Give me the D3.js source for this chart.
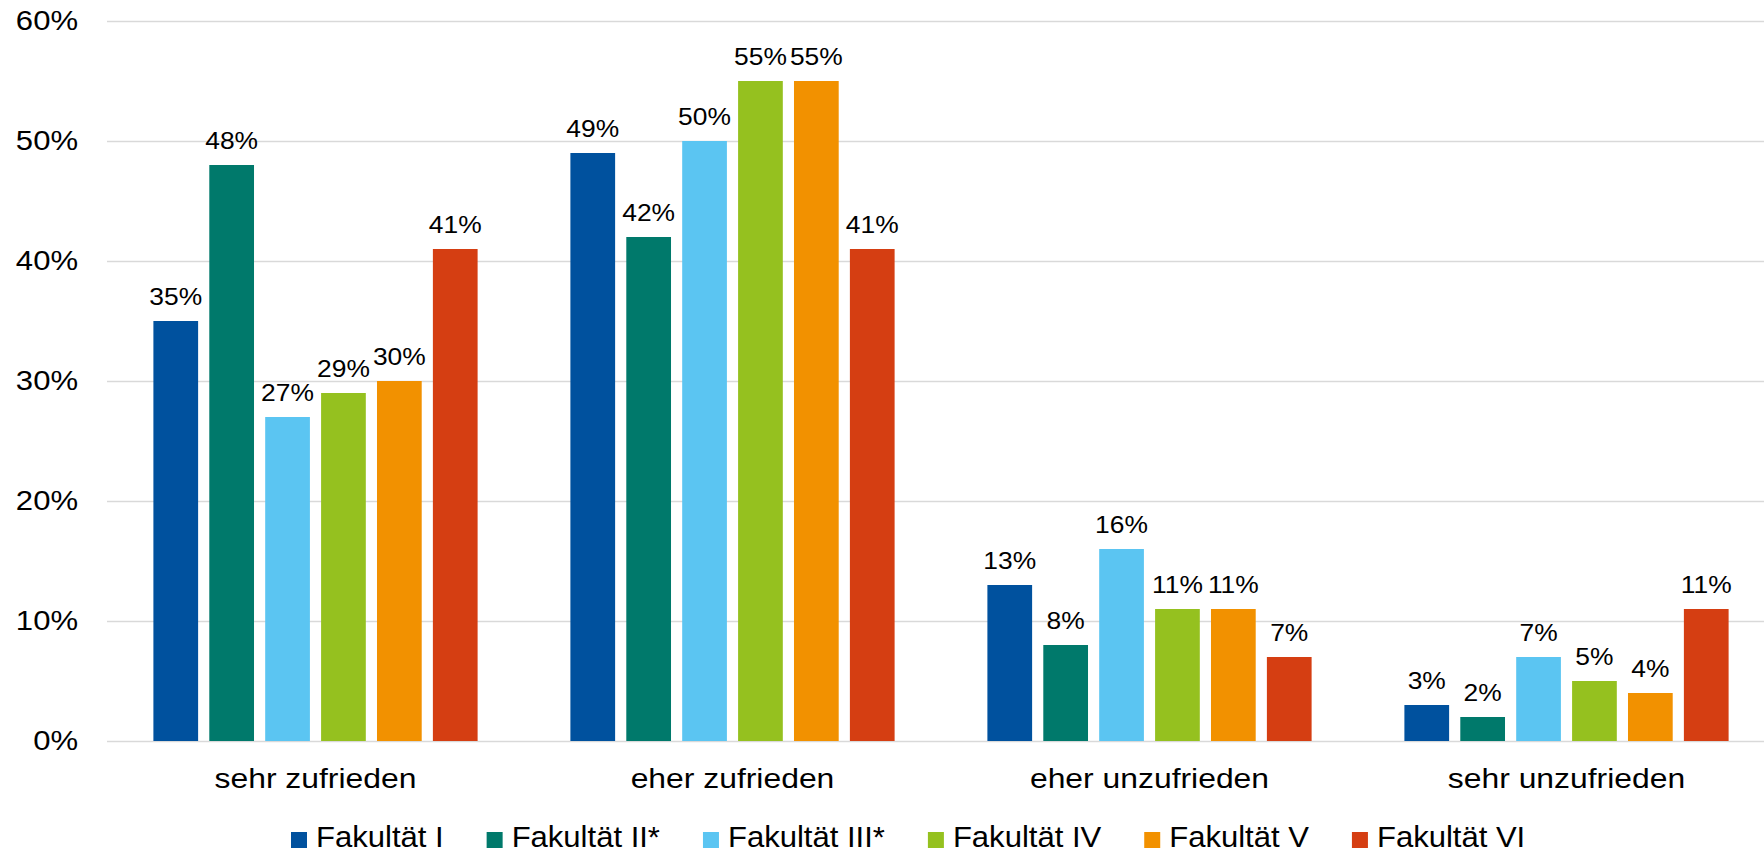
<!DOCTYPE html>
<html>
<head>
<meta charset="utf-8">
<script src="https://cdn.jsdelivr.net/npm/d3@7"></script>
<style>
  body { margin: 0; background: #fff; }
  svg { display: block; font-family: "Liberation Sans", Arial, sans-serif; }
</style>
</head>
<body>
<div id="chart"></div>
<script>
var categories = ['sehr zufrieden', 'eher zufrieden', 'eher unzufrieden', 'sehr unzufrieden'];
var faculties = ['Fakultät I', 'Fakultät II*', 'Fakultät III*', 'Fakultät IV', 'Fakultät V', 'Fakultät VI'];
var colours = ['#00519E', '#00796B', '#5BC5F2', '#95C11F', '#F29100', '#D53E12'];
// percent per faculty, in category order
var fak1 = [35, 49, 13, 3];
var fak2 = [48, 42, 8, 2];
var fak3 = [27, 50, 16, 7];
var fak4 = [29, 55, 11, 5];
var fak5 = [30, 55, 11, 4];
var fak6 = [41, 41, 7, 11];
var yTicks = [0, 10, 20, 30, 40, 50, 60];

var series = [fak1, fak2, fak3, fak4, fak5, fak6];

const width = 1764, height = 853;
const plotLeft = 107, plotRight = 1775, plotTop = 21, plotBottom = 741;

const svg = d3.select('#chart').append('svg')
    .attr('width', width)
    .attr('height', height);

const x0 = d3.scaleBand().domain(categories).range([plotLeft, plotRight]).padding(0);
const x1 = d3.scaleBand().domain(faculties).range([0, x0.bandwidth()])
    .paddingInner(0.2).paddingOuter(0.83);
const y = d3.scaleLinear().domain([0, 60]).range([plotBottom, plotTop]);

// stretch text horizontally a little, the original is wider than it is tall
function stretch(sel, k) {
    sel.each(function () {
        var w = this.getComputedTextLength();
        d3.select(this).attr('textLength', w * k).attr('lengthAdjust', 'spacingAndGlyphs');
        this.__w = w * k;
    });
}

// y axis + gridlines
const yAxis = svg.append('g')
    .attr('transform', 'translate(' + plotLeft + ',0)')
    .call(d3.axisLeft(y).tickValues(yTicks).tickSize(-(plotRight - plotLeft)).tickPadding(29)
        .tickFormat(d => d + '%'));
yAxis.select('.domain').remove();
yAxis.selectAll('.tick line').attr('stroke', '#D9D9D9').attr('stroke-width', 1.5);
yAxis.selectAll('.tick text')
    .attr('fill', '#000')
    .style('font-size', '27px')
    .call(stretch, 1.15);

// bars
const groups = svg.append('g').selectAll('g')
    .data(categories)
    .join('g')
    .attr('transform', d => 'translate(' + x0(d) + ',0)');

groups.selectAll('rect')
    .data((c, ci) => faculties.map((f, fi) => ({ fak: f, i: fi, value: series[fi][ci] })))
    .join('rect')
    .attr('x', d => x1(d.fak))
    .attr('y', d => y(d.value))
    .attr('width', x1.bandwidth())
    .attr('height', d => y(0) - y(d.value))
    .attr('fill', d => colours[d.i]);

groups.selectAll('text.val')
    .data((c, ci) => faculties.map((f, fi) => ({ fak: f, i: fi, value: series[fi][ci] })))
    .join('text')
    .attr('class', 'val')
    .attr('x', d => x1(d.fak) + x1.bandwidth() / 2)
    .attr('y', d => y(d.value) - 16)
    .attr('text-anchor', 'middle')
    .style('font-size', '24px')
    .attr('fill', '#000')
    .text(d => d.value + '%')
    .call(stretch, 1.1);

// category labels
svg.append('g').selectAll('text')
    .data(categories)
    .join('text')
    .attr('x', d => x0(d) + x0.bandwidth() / 2)
    .attr('y', 788)
    .attr('text-anchor', 'middle')
    .style('font-size', '27px')
    .attr('fill', '#000')
    .text(d => d)
    .call(stretch, 1.18);

// legend
const legend = svg.append('g').attr('transform', 'translate(291,0)');
var lx = 0;
faculties.forEach((f, i) => {
    const item = legend.append('g').attr('transform', 'translate(' + lx + ',0)');
    item.append('rect')
        .attr('x', 0).attr('y', 832)
        .attr('width', 16).attr('height', 16)
        .attr('fill', colours[i]);
    const t = item.append('text')
        .attr('x', 25).attr('y', 847)
        .style('font-size', '29px')
        .attr('fill', '#000')
        .text(f)
        .call(stretch, 1.07);
    lx += 25 + t.node().__w + 43;
});
</script>
</body>
</html>
